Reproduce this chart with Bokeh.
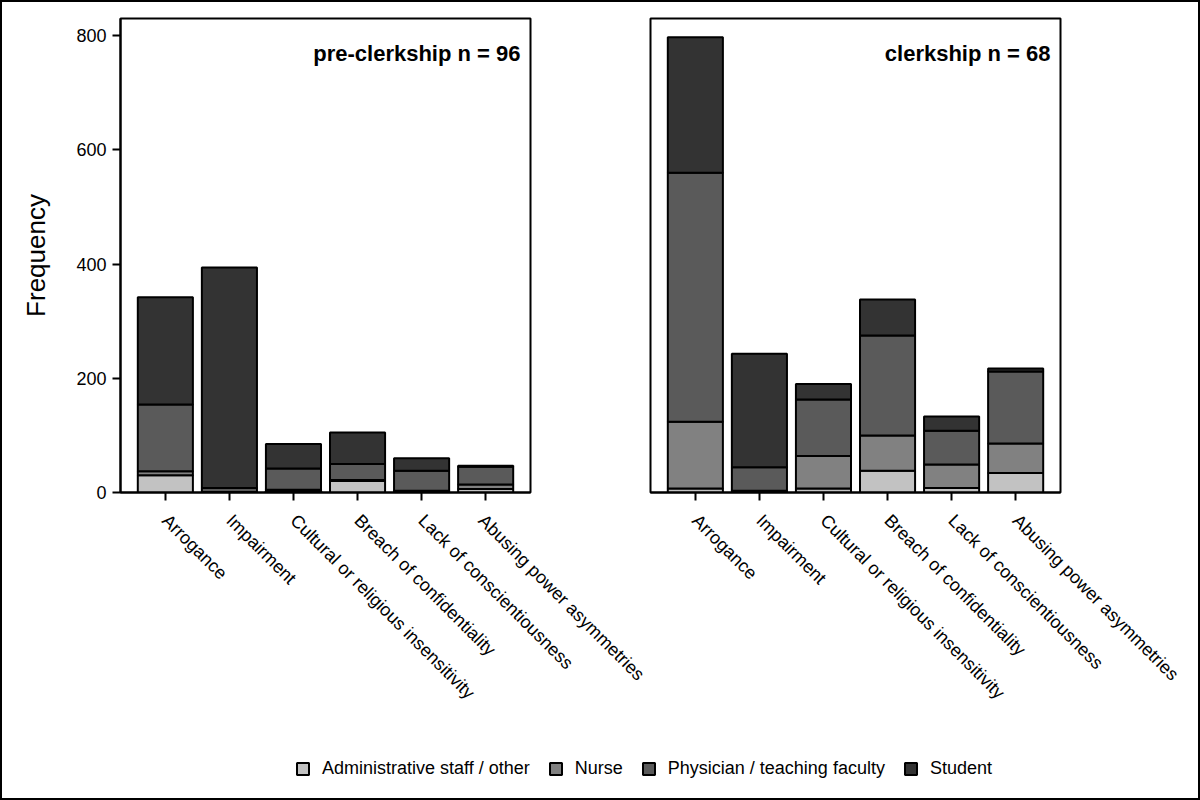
import math
from bokeh.plotting import figure
from bokeh.models import FactorRange, Range1d, Label, Legend, LegendItem, FixedTicker, ColumnDataSource
from bokeh.layouts import column, row
from bokeh.embed import file_html
from bokeh.resources import INLINE

categories = ["Arrogance", "Impairment", "Cultural or religious insensitivity",
              "Breach of confidentiality", "Lack of conscientiousness",
              "Abusing power asymmetries"]
groups = ["Administrative staff / other", "Nurse", "Physician / teaching faculty", "Student"]
colors = ["#c2c2c2", "#818181", "#5a5a5a", "#333333"]

pre_admin = [30, 0, 2, 20, 1, 6]
pre_nurse = [7, 1, 3, 2, 2, 8]
pre_phys = [117, 7, 37, 28, 35, 31]
pre_student = [188, 386, 43, 55, 22, 2]

cl_admin = [7, 1, 7, 38, 8, 34]
cl_nurse = [117, 2, 57, 62, 41, 52]
cl_phys = [436, 41, 99, 175, 59, 126]
cl_student = [237, 199, 27, 63, 25, 5]

y_ticks = [0, 200, 400, 600, 800]
FONT = "Liberation Sans"


def panel(title, admin, nurse, phys, student, with_y, width, mbl, mbr):
    keys = ["a", "n", "p", "s"]
    src = ColumnDataSource(dict(cat=categories, a=admin, n=nurse, p=phys, s=student))
    p = figure(x_range=FactorRange(factors=categories, range_padding=0.2,
                                   range_padding_units="absolute"),
               y_range=Range1d(0, 830), width=width, height=730,
               output_backend="svg", toolbar_location=None,
               min_border_left=mbl, min_border_right=mbr,
               min_border_top=18, min_border_bottom=238,
               y_axis_location="left" if with_y else None)
    p.vbar_stack(keys, x="cat", width=0.86, source=src, fill_color=colors,
                 line_color="black", line_width=2)
    p.xgrid.visible = False
    p.ygrid.visible = False
    p.outline_line_color = "black"
    p.outline_line_width = 2
    p.outline_line_alpha = 1
    p.background_fill_color = "white"
    p.border_fill_color = None

    xa = p.xaxis[0]
    xa.major_label_orientation = -math.pi / 4
    xa.major_label_text_font = FONT
    xa.major_label_text_font_size = "18px"
    xa.major_label_text_color = "black"
    xa.major_tick_out = 8
    xa.major_tick_in = 0
    xa.major_tick_line_width = 2
    xa.axis_line_width = 2
    xa.major_label_standoff = 17

    if with_y:
        ya = p.yaxis[0]
        ya.ticker = FixedTicker(ticks=y_ticks)
        ya.minor_tick_line_color = None
        ya.major_tick_out = 8
        ya.major_tick_in = 0
        ya.major_tick_line_width = 2
        ya.axis_line_width = 2
        ya.major_label_text_font = FONT
        ya.major_label_text_font_size = "18px"
        ya.major_label_text_color = "black"
        ya.major_label_standoff = 6
        ya.axis_label = "Frequency"
        ya.axis_label_text_font = FONT
        ya.axis_label_text_font_size = "26px"
        ya.axis_label_text_font_style = "normal"
        ya.axis_label_text_color = "black"
        ya.axis_label_standoff = 22

    p.add_layout(Label(x=6.2, y=790, x_offset=-10, text=title, text_align="right",
                       text_baseline="top", text_font=FONT, text_font_size="22px",
                       text_font_style="bold", text_color="black"))
    return p


p1 = panel("pre-clerkship n = 96", pre_admin, pre_nurse, pre_phys, pre_student,
           True, 648, 120, 118)
p2 = panel("clerkship n = 68", cl_admin, cl_nurse, cl_phys, cl_student,
           False, 552, 2, 140)

leg = figure(width=1200, height=70, output_backend="svg", toolbar_location=None,
             x_range=Range1d(0, 1), y_range=Range1d(0, 1),
             x_axis_location=None, y_axis_location=None,
             min_border=0, min_border_left=0, min_border_right=0,
             min_border_top=0, min_border_bottom=0)
leg.xgrid.visible = False
leg.ygrid.visible = False
leg.outline_line_color = None
leg.border_fill_color = None
leg.background_fill_color = None
items = []
for g, c in zip(groups, colors):
    r = leg.vbar(x=[-5], top=[0], width=0.5, fill_color=c, line_color="black", line_width=2)
    items.append(LegendItem(label=g, renderers=[r]))
legend = Legend(items=items, orientation="horizontal", location=(295, 21),
                label_text_font=FONT, label_text_font_size="18px",
                label_text_color="black", glyph_width=15, glyph_height=15,
                label_standoff=12, spacing=18, padding=0, margin=0,
                border_line_color=None, background_fill_alpha=0)
leg.add_layout(legend)

layout = column(row(p1, p2), leg,
                styles={"outline": "2px solid black", "outline-offset": "-2px",
                        "background": "white"})

open("out.html", "w").write(file_html(layout, INLINE))
